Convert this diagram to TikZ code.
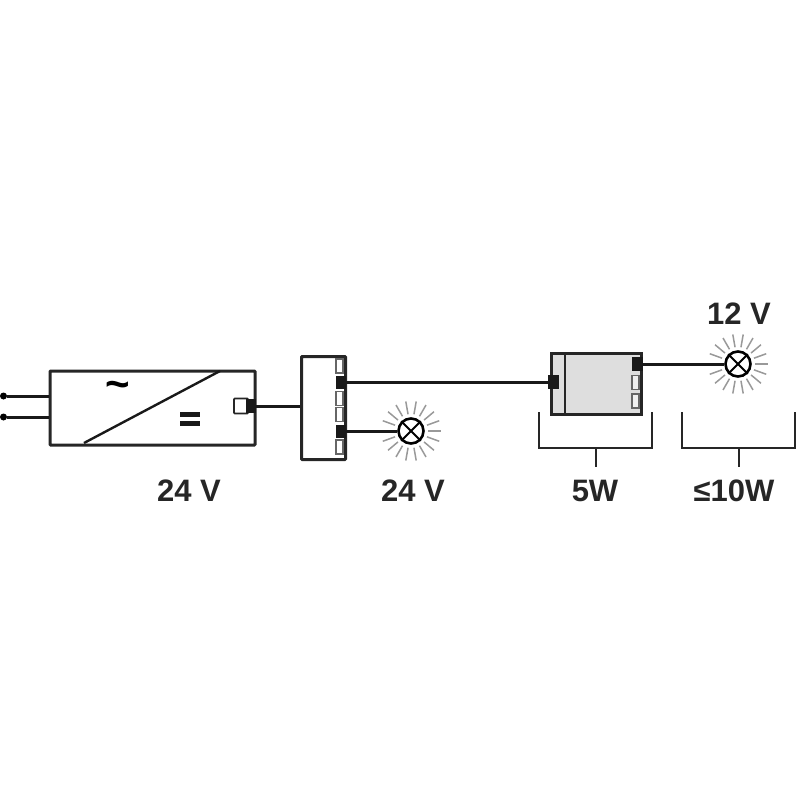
\documentclass[tikz,border=0pt]{standalone}
\usepackage{fontspec}
\setmainfont{Liberation Sans}
\usetikzlibrary{calc}
\tikzset{
  unit/.style={draw=black!85,line width=3pt,rounded corners=0.8pt,inner sep=0pt,anchor=north west},
  slot/.style={draw=black!60,fill=white,line width=1.3pt,inner sep=0pt,minimum width=7pt,minimum height=14pt},
  plug/.style={fill=black!90,inner sep=0pt,minimum width=10pt,minimum height=13pt},
  lamp/.style={draw=black,fill=white,circle,line width=2.6pt,inner sep=0pt,minimum size=25pt},
  wire/.style={draw=black!90,line width=3pt},
  lbl/.style={font=\fontsize{31}{31}\selectfont\bfseries,text=black!85,inner sep=0pt},
  ray/.style={draw=black!40,line width=1.5pt},
  brace/.style={draw=black!85,line width=2pt}
}
\begin{document}
\begin{tikzpicture}[x=1pt,y=-1pt]
\useasboundingbox (0,0) rectangle (800,800);

% driver
\node[unit,minimum width=205pt,minimum height=74pt] (driver) at (48.5,369.5) {};
\draw[black!90,line width=2.4pt] (84,443) -- (220,371);
\node[font=\fontsize{42}{42}\selectfont\bfseries,inner sep=0pt] (wave) at (117.5,390) {\char`\~};
\node[fill=black!90,inner sep=0pt,minimum width=20pt,minimum height=5pt] (barA) at (190,414.5) {};
\node[fill=black!90,inner sep=0pt,minimum width=20pt,minimum height=5pt] (barB) at (190,423.5) {};
\node[draw=black!85,fill=white,line width=1.8pt,rounded corners=0.8pt,inner sep=0pt,minimum width=14pt,minimum height=15pt] (socketA) at (241,406) {};
\node[plug,minimum height=14pt] (plugA) at (251,406) {};
\node[fill=black,circle,inner sep=0pt,minimum size=7pt] (mainsA) at (3.5,396) {};
\node[fill=black,circle,inner sep=0pt,minimum size=7pt] (mainsB) at (3.5,417) {};
\draw[wire] (mainsA) -- (mainsA -| driver.west);
\draw[wire] (mainsB) -- (mainsB -| driver.west);

% splitter
\node[unit,minimum width=44pt,minimum height=103pt] (split) at (300,355) {};
\node[slot] (slotA) at (339.5,366) {};
\node[slot] (slotB) at (339.5,398.5) {};
\node[slot] (slotC) at (339.5,414.5) {};
\node[slot] (slotD) at (339.5,447) {};
\node[plug] (plugB) at (341,382) {};
\node[plug] (plugC) at (341,431) {};
\draw[wire] (plugA) -- (plugA -| split.west);

% converter
\node[unit,fill=black!13,rounded corners=0pt,minimum width=90pt,minimum height=61pt] (conv) at (550,352) {};
\draw[black!85,line width=1.8pt] (565,352) -- (565,413);
\node[plug,minimum width=11pt,minimum height=14pt] (plugD) at (553.5,382) {};
\node[plug,minimum width=11pt,minimum height=14pt] (plugE) at (637,364) {};
\node[slot,fill=black!6] (slotE) at (635.5,382.5) {};
\node[slot,fill=black!6] (slotF) at (635.5,401) {};

% lamps
\node[lamp] (lampA) at (411,431) {};
\node[lamp] (lampB) at (738,364) {};
\foreach \lampname in {lampA,lampB} {
  \draw[black,line width=1.8pt] (\lampname.45) -- (\lampname.225);
  \draw[black,line width=1.8pt] (\lampname.135) -- (\lampname.315);
  \foreach \ang in {0,20,...,340} {
    \ifnum\ang=180\else
      \draw[ray] ($(\lampname)+(\ang:17pt)$) -- ($(\lampname)+(\ang:30pt)$);
    \fi
  }
}

% wires
\draw[wire] (plugB) -- (plugD);
\draw[wire] (plugC) -- (lampA);
\draw[wire] (plugE) -- (lampB);

% brackets
\coordinate (braceAl) at (539,412); \coordinate (braceAr) at (652,412);
\coordinate (braceBl) at (682,412); \coordinate (braceBr) at (795,412);
\coordinate (stemA) at (595.5,448); \coordinate (stemB) at (738.5,448);
\draw[brace] (braceAl) |- (stemA) -| (braceAr);
\draw[brace] (braceBl) |- (stemB) -| (braceBr);
\draw[brace] (stemA) -- ++(0,19);
\draw[brace] (stemB) -- ++(0,19);

% labels
\node[lbl] (voltA) at (189,491) {24 V};
\node[lbl] (voltB) at (413,491) {24 V};
\node[lbl] (powerA) at (595,491) {5W};
\node[lbl] (powerB) at (734,491) {≤10W};
\node[lbl] (voltC) at (739,314) {12 V};
\end{tikzpicture}
\end{document}
